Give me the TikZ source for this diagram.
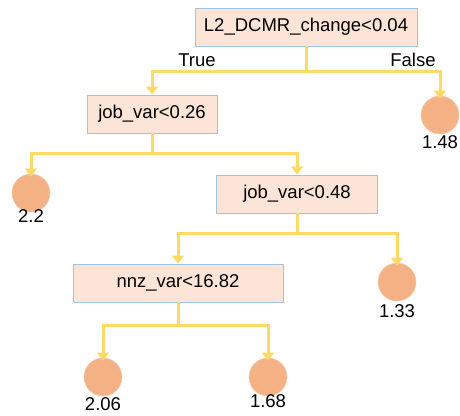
\documentclass[tikz,border=0pt]{standalone}
\usepackage{fontspec}
\setmainfont{Liberation Sans}
\usetikzlibrary{arrows.meta}

\definecolor{splitfill}{HTML}{FCE4D6}
\definecolor{splitline}{HTML}{9DC3E6}
\definecolor{leaffill}{HTML}{F4B183}
\definecolor{leafline}{HTML}{F8CBAD}
\definecolor{branch}{HTML}{FFD966}

\tikzset{
  split/.style={draw=splitline, fill=splitfill, line width=0.8pt, minimum height=38pt,
    inner sep=0pt, font=\fontsize{18.5}{22}\selectfont},
  leaf/.style={circle, draw=leafline, fill=leaffill, line width=0.6pt, minimum size=38pt, inner sep=0pt},
  value/.style={font=\fontsize{18.5}{22}\selectfont},
  edge/.style={draw=branch, line width=3pt, -{Triangle[width=12pt,length=8pt]}}
}

\begin{document}
\begin{tikzpicture}[x=1pt, y=-1pt]
\useasboundingbox (0,0) rectangle (460,415);

\node[split, minimum width=222pt] (root) at (306, 27) {L2\_DCMR\_change<0.04};
\node[split, minimum width=130pt] (jobA) at (152, 114) {job\_var<0.26};
\node[split, minimum width=161pt] (jobB) at (297, 194) {job\_var<0.48};
\node[split, minimum width=210pt] (nnz) at (178, 283) {nnz\_var<16.82};

\node[leaf] (leafF) at (440, 115) {};
\node[leaf] (leafA) at (31, 193) {};
\node[leaf] (leafB) at (397, 282) {};
\node[leaf] (leafC) at (103, 377) {};
\node[leaf] (leafD) at (268, 377) {};

\node[value] (valF) at (440, 142) {1.48};
\node[value] (valA) at (31, 216) {2.2};
\node[value] (valB) at (397, 311) {1.33};
\node[value] (valC) at (103, 404) {2.06};
\node[value] (valD) at (268, 401) {1.68};

\node[value] (yes) at (197, 60) {True};
\node[value] (no) at (413, 60) {False};

% branching points
\coordinate (forkRoot) at (306, 71);
\coordinate (forkA) at (152, 153);
\coordinate (forkB) at (297, 233);
\coordinate (forkC) at (178, 325);

\draw[edge] (root.south) -- (forkRoot) -| (jobA.north);
\draw[edge] (forkRoot) -| ([yshift=-3pt]leafF.north);
\draw[edge] (jobA.south) -- (forkA) -| ([yshift=-3pt]leafA.north);
\draw[edge] (forkA) -| (jobB.north);
\draw[edge] (jobB.south) -- (forkB) -| (nnz.north);
\draw[edge] (forkB) -| ([yshift=-3pt]leafB.north);
\draw[edge] (nnz.south) -- (forkC) -| ([yshift=-3pt]leafC.north);
\draw[edge] (forkC) -| ([yshift=-3pt]leafD.north);
\end{tikzpicture}
\end{document}
